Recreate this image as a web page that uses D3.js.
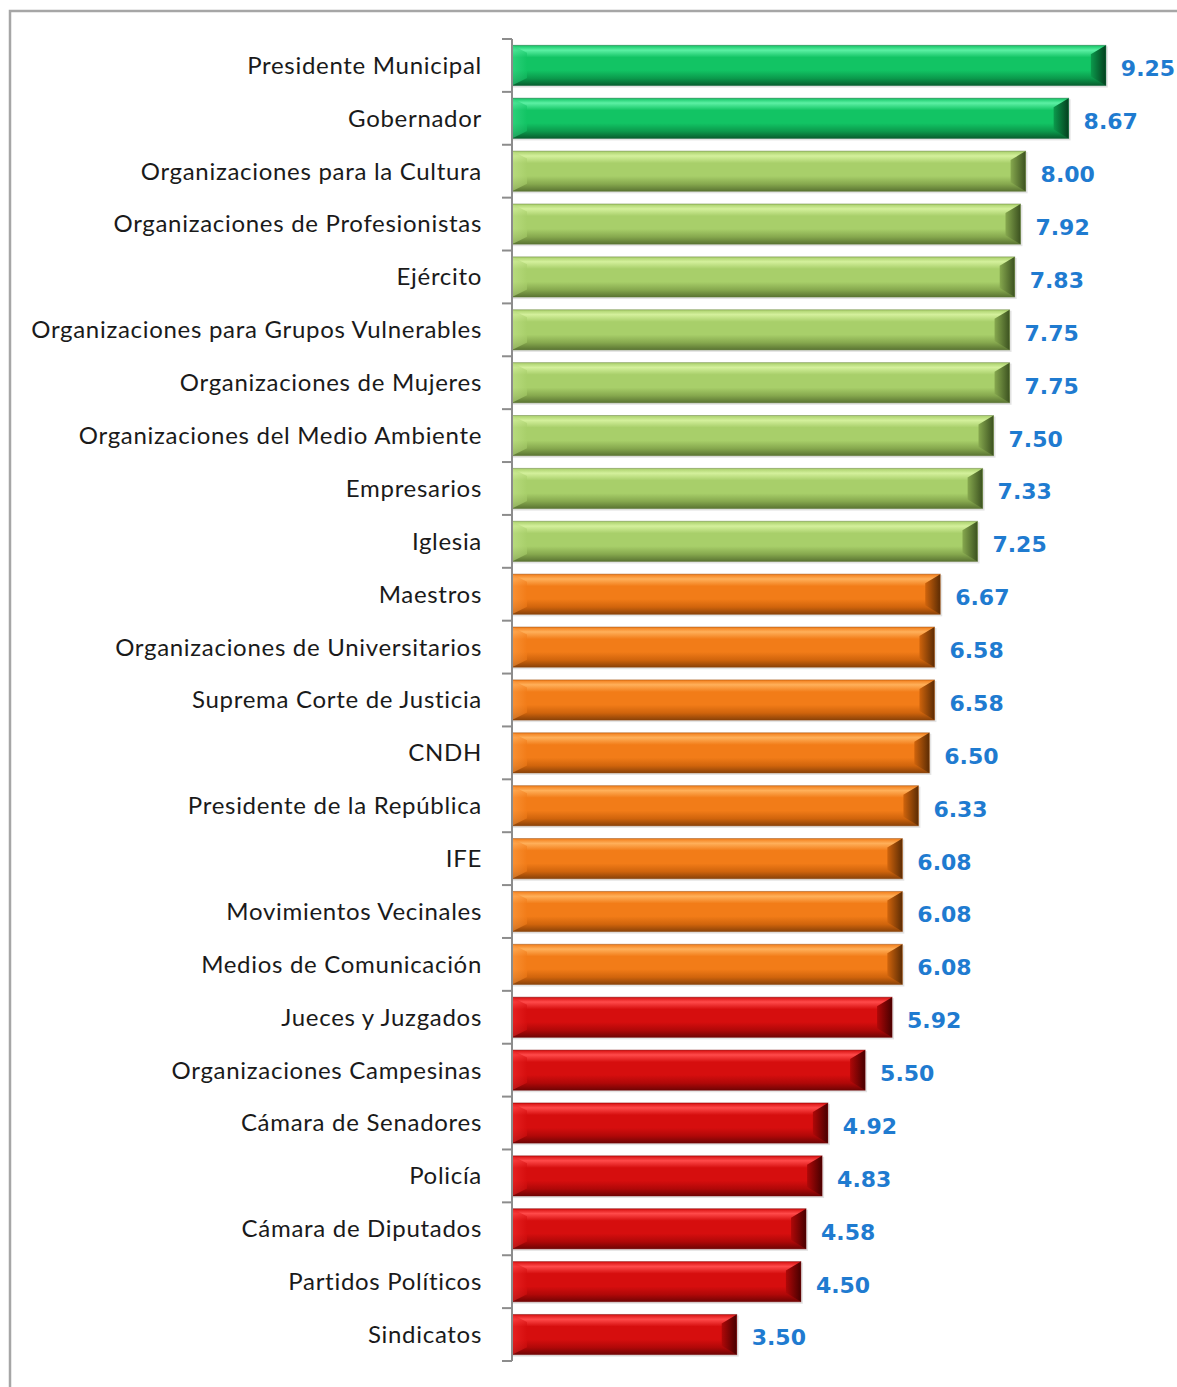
<!DOCTYPE html>
<html>
<head>
<meta charset="utf-8">
<script src="https://cdn.jsdelivr.net/npm/d3@7"></script>
<style>
  html, body { margin: 0; padding: 0; background: #fff; }
  svg { display: block; }
</style>
</head>
<body>
<svg id="chart" width="1177" height="1387"></svg>
<script>
// Confidence ratings by institution
const categories = [
  "Presidente Municipal", "Gobernador", "Organizaciones para la Cultura",
  "Organizaciones de Profesionistas", "Ejército", "Organizaciones para Grupos Vulnerables",
  "Organizaciones de Mujeres", "Organizaciones del Medio Ambiente", "Empresarios",
  "Iglesia", "Maestros", "Organizaciones de Universitarios", "Suprema Corte de Justicia",
  "CNDH", "Presidente de la República", "IFE", "Movimientos Vecinales",
  "Medios de Comunicación", "Jueces y Juzgados", "Organizaciones Campesinas",
  "Cámara de Senadores", "Policía", "Cámara de Diputados", "Partidos Políticos", "Sindicatos"
];
const values = [
  9.25, 8.67, 8.00, 7.92, 7.83, 7.75, 7.75, 7.50, 7.33, 7.25,
  6.67, 6.58, 6.58, 6.50, 6.33, 6.08, 6.08, 6.08,
  5.92, 5.50, 4.92, 4.83, 4.58, 4.50, 3.50
];
const tiers = [
  "high", "high",
  "good", "good", "good", "good", "good", "good", "good", "good",
  "mid", "mid", "mid", "mid", "mid", "mid", "mid", "mid",
  "low", "low", "low", "low", "low", "low", "low"
];

// Shading stops per tier: top highlight, body, lower body, bottom edge, end caps
const palette = {
  high: { hi: "#5cf0a4", body: "#12c464", low: "#0b9a4c", edge: "#075e2e", cap: "#04401f", lcap: "#3fdc8c" },
  good: { hi: "#d4f09c", body: "#a8cf6a", low: "#86a84e", edge: "#5a7432", cap: "#3c5220", lcap: "#c4e48c" },
  mid:  { hi: "#ffb05a", body: "#f27c18", low: "#d0640c", edge: "#8a4208", cap: "#5c2c04", lcap: "#ffa048" },
  low:  { hi: "#ff4a4a", body: "#d60e0e", low: "#b00808", edge: "#700404", cap: "#480000", lcap: "#f43030" }
};

const svg = d3.select("#chart");
const W = 1177, H = 1387;
const axisX = 512;

const x = d3.scaleLinear().domain([0, 10]).range([axisX, axisX + 642]);
const y = d3.scaleBand().domain(categories).range([39, 1361]).paddingInner(0.24).paddingOuter(0.12);

// Chart frame
svg.append("path")
  .attr("d", `M10,${H + 2} V11 H${W + 2}`)
  .attr("fill", "none")
  .attr("stroke", "#a6a6a6")
  .attr("stroke-width", 2.5);

const defs = svg.append("defs");
Object.entries(palette).forEach(([k, c]) => {
  const g = defs.append("linearGradient").attr("id", "body-" + k)
    .attr("x1", 0).attr("y1", 0).attr("x2", 0).attr("y2", 1);
  [[0, c.body], [0.12, c.hi], [0.3, c.body], [0.62, c.body], [0.82, c.low], [1, c.edge]]
    .forEach(([o, col]) => g.append("stop").attr("offset", o).attr("stop-color", col));
  const r = defs.append("linearGradient").attr("id", "cap-" + k)
    .attr("x1", 0).attr("y1", 0).attr("x2", 1).attr("y2", 0);
  r.append("stop").attr("offset", 0).attr("stop-color", c.low);
  r.append("stop").attr("offset", 1).attr("stop-color", c.cap);
  const l = defs.append("linearGradient").attr("id", "lcap-" + k)
    .attr("x1", 0).attr("y1", 0).attr("x2", 1).attr("y2", 0);
  l.append("stop").attr("offset", 0).attr("stop-color", c.lcap);
  l.append("stop").attr("offset", 1).attr("stop-color", c.body);
});

const rows = categories.map((c, i) => ({ cat: c, v: values[i], tier: tiers[i] }));

const bars = svg.append("g").selectAll("g").data(rows).join("g");
const bw = y.bandwidth();
const bev = 15;

// soft shadow
bars.append("rect")
  .attr("x", x(0) + 1).attr("y", d => y(d.cat) + 1)
  .attr("width", d => x(d.v) - x(0) + 1).attr("height", bw + 1)
  .attr("fill", "#d9d9d9").attr("opacity", 0.7);

bars.append("rect")
  .attr("x", x(0)).attr("y", d => y(d.cat))
  .attr("width", d => x(d.v) - x(0)).attr("height", bw)
  .attr("fill", d => `url(#body-${d.tier})`);

// left bevel
bars.append("path")
  .attr("d", d => {
    const x0 = x(0), y0 = y(d.cat);
    return `M${x0},${y0} L${x0 + bev},${y0 + bev * 0.5} L${x0 + bev},${y0 + bw - bev * 0.5} L${x0},${y0 + bw} Z`;
  })
  .attr("fill", d => `url(#lcap-${d.tier})`).attr("opacity", 0.55);

// right bevel
bars.append("path")
  .attr("d", d => {
    const x1 = x(d.v), y0 = y(d.cat);
    return `M${x1},${y0} L${x1 - bev},${y0 + bev * 0.6} L${x1 - bev},${y0 + bw - bev * 0.6} L${x1},${y0 + bw} Z`;
  })
  .attr("fill", d => `url(#cap-${d.tier})`);

bars.append("rect")
  .attr("x", x(0)).attr("y", d => y(d.cat))
  .attr("width", d => x(d.v) - x(0)).attr("height", bw)
  .attr("fill", "none").attr("stroke", d => palette[d.tier].edge)
  .attr("stroke-opacity", 0.45).attr("stroke-width", 1);

// Value labels
svg.append("g").selectAll("text").data(rows).join("text")
  .attr("x", d => x(d.v) + 15)
  .attr("y", d => y(d.cat) + bw / 2 + 3)
  .attr("dy", "0.36em")
  .attr("font-family", "DejaVu Sans, Verdana, sans-serif")
  .attr("font-weight", "bold")
  .attr("font-size", 22)
  .attr("fill", "#1f7bd0")
  .text(d => d.v.toFixed(2));

// Category axis with ticks at band boundaries
const axisG = svg.append("g");
const [yTop, yBottom] = y.range();
const bounds = d3.range(categories.length + 1).map(i => yTop + i * (yBottom - yTop) / categories.length);
axisG.append("line")
  .attr("x1", axisX).attr("x2", axisX).attr("y1", yTop).attr("y2", yBottom)
  .attr("stroke", "#8c8c8c").attr("stroke-width", 2);
axisG.selectAll("line.tick").data(bounds).join("line").attr("class", "tick")
  .attr("x1", axisX - 10).attr("x2", axisX).attr("y1", d => d).attr("y2", d => d)
  .attr("stroke", "#8c8c8c").attr("stroke-width", 2);

axisG.selectAll("text").data(categories).join("text")
  .attr("x", axisX - 30)
  .attr("y", d => y(d) + bw / 2)
  .attr("dy", "0.35em")
  .attr("text-anchor", "end")
  .attr("font-family", "Lato, 'Open Sans', sans-serif")
  .attr("font-size", 24)
  .attr("letter-spacing", 0.7)
  .attr("fill", "#1a1a1a")
  .text(d => d);
</script>
</body>
</html>
